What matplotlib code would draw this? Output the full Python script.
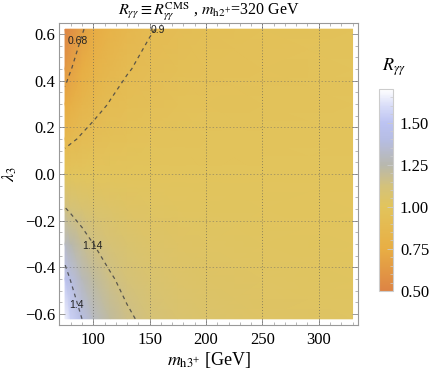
import numpy as np
import matplotlib
matplotlib.use("Agg")
import matplotlib.pyplot as plt
from matplotlib.colors import LinearSegmentedColormap, Normalize
from matplotlib.ticker import MultipleLocator, FixedLocator

plt.rcParams['font.family'] = 'serif'
plt.rcParams['font.serif'] = ['Liberation Serif', 'DejaVu Serif']
plt.rcParams['mathtext.fontset'] = 'stix'

# grid
m_h3 = [75, 80, 90, 100, 115, 130, 150, 175, 200, 250, 330]
lam3 = [-0.62, -0.45, -0.3, -0.15, 0.0, 0.15, 0.3, 0.45, 0.62]
# R_gamma_gamma, one row per lambda_3, columns follow m_h3
r_aa = [
    [1.668, 1.555, 1.400, 1.302, 1.211, 1.156, 1.112, 1.079, 1.059, 1.037, 1.021],
    [1.468, 1.391, 1.284, 1.215, 1.151, 1.112, 1.080, 1.057, 1.043, 1.027, 1.015],
    [1.302, 1.253, 1.185, 1.141, 1.100, 1.074, 1.053, 1.038, 1.029, 1.018, 1.010],
    [1.146, 1.123, 1.091, 1.069, 1.049, 1.037, 1.026, 1.019, 1.014, 1.009, 1.005],
    [1.000, 1.000, 1.000, 1.000, 1.000, 1.000, 1.000, 1.000, 1.000, 1.000, 1.000],
    [0.864, 0.884, 0.913, 0.933, 0.952, 0.964, 0.974, 0.981, 0.986, 0.991, 0.995],
    [0.738, 0.775, 0.831, 0.868, 0.905, 0.929, 0.948, 0.963, 0.972, 0.982, 0.990],
    [0.622, 0.674, 0.752, 0.806, 0.860, 0.894, 0.923, 0.945, 0.958, 0.973, 0.985],
    [0.502, 0.567, 0.667, 0.738, 0.809, 0.855, 0.894, 0.924, 0.943, 0.963, 0.979],
]

contour_levels = [0.68, 0.9, 1.14, 1.4]
contour_labels = [(86.5, 0.57, "0.68"), (157.5, 0.615, "0.9"),
                  (99.5, -0.31, "1.14"), (85.5, -0.56, "1.4")]

cbar_ticks = [0.5, 0.75, 1.0, 1.25, 1.5]
cmap_stops = [0.5, 0.75, 1.0, 1.12, 1.25, 1.4, 1.5, 1.6, 1.7]
cmap_colors = ['#dd8444', '#e8ae44', '#e2c45c', '#d4c27a', '#b8b8ae',
               '#b6bde4', '#bcc3f2', '#d8dcf8', '#ffffff']

vmin, vmax = 0.5, 1.7
cmap = LinearSegmentedColormap.from_list(
    'ryy', [((s - vmin) / (vmax - vmin), c) for s, c in zip(cmap_stops, cmap_colors)])
norm = Normalize(vmin, vmax)

fig = plt.figure(figsize=(4.36, 3.70), dpi=100)
ax = fig.add_axes([59.3 / 436, 1 - 324.6 / 370, 299 / 436, 301.2 / 370])

X, Y = np.meshgrid(m_h3, lam3)
Z = np.array(r_aa)
mesh = ax.pcolormesh(X, Y, Z, cmap=cmap, norm=norm, shading='gouraud', rasterized=True)
ax.contour(X, Y, Z, levels=contour_levels, colors='#444444', linewidths=0.9,
           linestyles=[(0, (3, 3))], alpha=0.85)
for xm, yl, txt in contour_labels:
    ax.text(xm, yl, txt, ha='center', va='center', fontsize=7.5,
            family='Liberation Sans', color='#222222')

for xg in [100, 150, 200, 250, 300]:
    ax.axvline(xg, color='#555555', lw=0.7, ls=(0, (1, 2)), alpha=0.6)
for yg in [-0.4, -0.2, 0.0, 0.2, 0.4]:
    ax.axhline(yg, color='#666666', lw=0.7, ls=(0, (1.5, 2)), alpha=0.45)

pad_x = 0.02 * (m_h3[-1] - m_h3[0])
pad_y = 0.02 * (lam3[-1] - lam3[0])
ax.set_xlim(m_h3[0] - pad_x, m_h3[-1] + pad_x)
ax.set_ylim(lam3[0] - pad_y, lam3[-1] + pad_y)

ax.xaxis.set_major_locator(MultipleLocator(50))
ax.xaxis.set_minor_locator(MultipleLocator(10))
ax.yaxis.set_major_locator(MultipleLocator(0.2))
ax.yaxis.set_minor_locator(MultipleLocator(0.05))
ax.yaxis.set_major_formatter(lambda v, p: f"{v:.1f}".replace('-', '\u2212'))
ax.tick_params(which='both', direction='in', top=True, right=True, color='#999999',
               labelsize=12)
ax.tick_params(which='major', length=4.5, width=0.7)
ax.tick_params(which='minor', length=2.5, width=0.5)
ax.tick_params(axis='x', pad=5)
ax.tick_params(axis='y', pad=3)
for sp in ax.spines.values():
    sp.set_color('#999999')
    sp.set_linewidth(0.8)

ax.set_title(r'$R_{\gamma\gamma}\equiv R_{\gamma\gamma}^{\mathrm{CMS}}$ , $m_{\mathrm{h2}^{+}}$=320 GeV',
             fontsize=11.5, pad=3)
ax.set_xlabel(r'$m_{\mathrm{h3}^{+}}$ [GeV]', fontsize=13)
ax.xaxis.set_label_coords(0.5, -0.085)
ax.set_ylabel(r'$\lambda_3$', fontsize=13)
ax.yaxis.set_label_coords(-0.135, 0.5)

cax = fig.add_axes([379 / 436, 1 - 291 / 370, 14 / 436, 202 / 370])
cb = fig.colorbar(mesh, cax=cax)
cb.set_ticks(cbar_ticks)
cb.set_ticklabels([f"{t:.2f}" for t in cbar_ticks])
cax.yaxis.set_minor_locator(FixedLocator(np.arange(0.55, 1.7, 0.05)))
cax.tick_params(which='both', direction='in', color='#cccccc', labelsize=12, pad=5)
cax.tick_params(which='major', length=4, width=0.6)
cax.tick_params(which='minor', length=2, width=0.5)
cb.outline.set_edgecolor('#cccccc')
cb.outline.set_linewidth(0.8)
fig.text(394 / 436, 1 - 67 / 370, r'$R_{\gamma\gamma}$', ha='center', va='center', fontsize=13)

fig.savefig('out.png', dpi=100)
